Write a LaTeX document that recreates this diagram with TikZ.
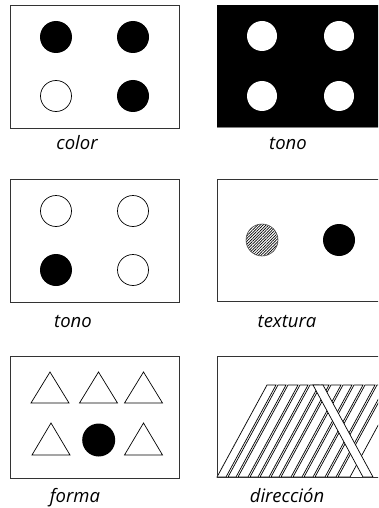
\documentclass[tikz,border=0pt]{standalone}
\usepackage{fontspec}
\setmainfont{Open Sans}
\usetikzlibrary{patterns.meta}
\begin{document}
\begin{tikzpicture}[x=1pt,y=-1pt,
  box/.style={draw=black!80,line width=0.9pt},
  ln/.style={draw=black,line width=0.7pt},
  lab/.style={font=\fontsize{18.5}{22}\selectfont\itshape,anchor=base,inner sep=0pt}]
\useasboundingbox (0,0) rectangle (378,508);
\clip (0,0) rectangle (378,508);
% ---------- row 1 ----------
\draw[box] (10,5) rectangle (179,128);
\fill (56,37) circle (16);
\fill (133,37) circle (16);
\draw[ln,fill=white] (56,96) circle (15.5);
\fill (133,96) circle (16);
\fill[black] (217,5) rectangle (400,127);
\draw[draw=black!50,line width=0.6pt] (217,127) -- (400,127);
\fill[white] (262,36) circle (15);
\fill[white] (339,36) circle (15);
\fill[white] (262,96) circle (15);
\fill[white] (339,96) circle (15);
\node[lab] (l1) at (77,149) {color};
\node[lab] (l2) at (288,149) {tono};
% ---------- row 2 ----------
\draw[box] (10,179) rectangle (179,302);
\draw[ln] (56,211) circle (15.5);
\draw[ln] (133,211) circle (15.5);
\fill (56,270) circle (16);
\draw[ln] (133,270) circle (15.5);
\draw[box] (217,179) rectangle (400,301);
\fill[white] (262,240) circle (16);
\fill[pattern={Lines[angle=45,distance=2pt,line width=0.7pt]}] (262,240) circle (16);
\draw[draw=black!70,line width=0.6pt] (262,240) circle (16);
\fill (339,240) circle (16);
\node[lab] (l3) at (73,327) {tono};
\node[lab] (l4) at (287,327) {textura};
% ---------- row 3 ----------
\draw[box] (10,356) rectangle (179,478);
\foreach \cx in {50,98.5,143.5}{
  \draw[ln,line join=miter] (\cx-19,403) -- (\cx,372) -- (\cx+19,403) -- cycle;
}
\foreach \cx in {51,143.5}{
  \draw[ln,line join=miter] (\cx-19,455) -- (\cx,423) -- (\cx+19,455) -- cycle;
}
\fill (98.7,440) circle (16.5);
% direction strips
\foreach \a/\b in {267/276,278/286,288/298,300/308,310/319,321/329,331/341,343/352,354/363,365/375,377/386,388/400}{
  \draw[ln,fill=white] (\a,385) -- (\b,385) -- (\b-50,477) -- (\a-50,477) -- cycle;
}
\draw[ln,fill=white] (313,385) -- (323,385) -- (373,477) -- (363,477) -- cycle;
\draw[box] (217,356) rectangle (400,477);
\node[lab] (l5) at (75,502) {forma};
\node[lab] (l6) at (287,502) {dirección};
\end{tikzpicture}
\end{document}
